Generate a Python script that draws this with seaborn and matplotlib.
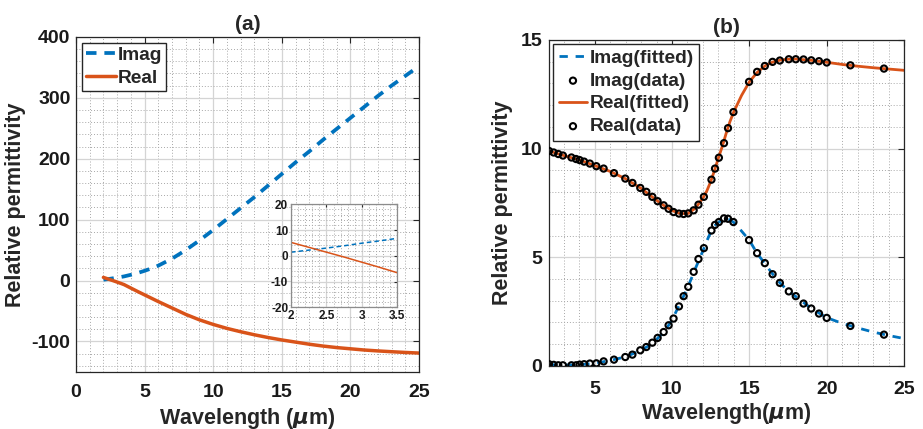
import numpy as np
import matplotlib
matplotlib.use("Agg")
import matplotlib.pyplot as plt
from matplotlib.ticker import MultipleLocator
import seaborn as sns

# ---- panel (a): Drude-type permittivity of the metal ----
wl_a = [2, 2.25, 2.5, 2.75, 3, 3.25, 3.5, 4, 4.5, 5, 5.5, 6, 7, 8, 9, 10,
        11, 12, 13, 14, 15, 16, 17, 18, 19, 20, 21, 22, 23, 24, 25]
imag_a = [1.4, 2.2, 3.0, 3.9, 4.9, 5.8, 6.8, 9.5, 12.5, 16, 20, 24.5, 36, 50,
          66, 83, 101, 119, 137, 156, 175, 194, 212, 231, 249, 267, 285, 303,
          320, 336, 352]
real_a = [5.2, 3.3, 1.4, -0.5, -2.5, -4.5, -6.6, -12.3, -18, -23.5, -29, -34.5,
          -45, -55.5, -64.5, -72, -78.5, -84, -89, -93.5, -97.5, -101, -104.5,
          -107.5, -110, -112, -114, -115.5, -116.8, -118, -119]

# ---- panel (b): measured data and fitted model of the dielectric ----
wl_data = [2.05, 2.35, 2.65, 2.95, 3.5, 3.8, 4.03, 4.32, 4.69, 5.11, 5.58,
           6.25, 6.98, 7.44, 7.95, 8.34, 8.73, 9.07, 9.46, 9.78, 10.1, 10.45,
           10.75, 11.05, 11.4, 11.71, 12.06, 12.55, 12.78, 13.03, 13.36,
           13.62, 13.97, 14.98, 15.5, 16.0, 16.5, 16.97, 17.55, 18.0, 18.5,
           19.0, 19.5, 20.0, 21.53, 23.7]
real_data = [9.89, 9.82, 9.75, 9.68, 9.59, 9.52, 9.47, 9.40, 9.31, 9.19, 9.08,
             8.87, 8.62, 8.42, 8.19, 8.01, 7.78, 7.58, 7.39, 7.23, 7.08, 7.01,
             6.99, 7.02, 7.16, 7.42, 7.78, 8.57, 9.08, 9.58, 10.25, 10.94,
             11.68, 13.07, 13.53, 13.80, 13.99, 14.05, 14.11, 14.11, 14.10,
             14.06, 14.02, 13.96, 13.83, 13.68]
imag_data = [0.08, 0.05, 0.03, 0.03, 0.03, 0.03, 0.06, 0.08, 0.11, 0.12, 0.21,
             0.29, 0.41, 0.52, 0.72, 0.87, 1.07, 1.29, 1.56, 1.87, 2.18, 2.74,
             3.21, 3.64, 4.33, 4.92, 5.42, 6.23, 6.49, 6.62, 6.79, 6.77, 6.62,
             5.79, 5.19, 4.73, 4.22, 3.82, 3.43, 3.21, 2.87, 2.64, 2.41, 2.21,
             1.84, 1.44]

wl_fit = [2.05, 3, 4, 5, 6, 7, 8, 8.5, 9, 9.5, 10, 10.5, 11, 11.5, 12, 12.25,
          12.5, 12.75, 13, 13.25, 13.5, 13.75, 14, 14.5, 15, 15.5, 16, 16.5,
          17, 17.5, 18, 19, 20, 21, 22, 23, 24, 25]
real_fit = [9.89, 9.68, 9.48, 9.22, 8.95, 8.61, 8.17, 7.90, 7.62, 7.37, 7.15,
            7.02, 7.00, 7.25, 7.72, 8.05, 8.48, 9.00, 9.57, 10.10, 10.70,
            11.25, 11.70, 12.45, 13.07, 13.50, 13.80, 13.98, 14.07, 14.11,
            14.12, 14.06, 13.97, 13.87, 13.79, 13.72, 13.66, 13.60]
imag_fit = [0.06, 0.04, 0.05, 0.12, 0.25, 0.42, 0.72, 0.93, 1.22, 1.58, 2.10,
            2.85, 3.58, 4.46, 5.30, 5.75, 6.15, 6.45, 6.60, 6.72, 6.78, 6.72,
            6.60, 6.20, 5.78, 5.18, 4.71, 4.23, 3.80, 3.46, 3.19, 2.65, 2.22,
            1.96, 1.75, 1.56, 1.40, 1.26]

# tick positions / labels
xticks_a = [0, 5, 10, 15, 20, 25]
yticks_a = [-100, 0, 100, 200, 300, 400]
xticks_in = [2, 2.5, 3, 3.5]
yticks_in = [-20, -10, 0, 10, 20]
xticks_b = [5, 10, 15, 20, 25]
yticks_b = [0, 5, 10, 15]

BLUE = "#0072BD"
ORANGE = "#D95319"
AXCOL = "#262626"

sns.set_style("white")
plt.rcParams["font.family"] = ["Liberation Sans", "DejaVu Sans"]
plt.rcParams["font.weight"] = "bold"
plt.rcParams["axes.labelweight"] = "bold"
plt.rcParams["axes.titleweight"] = "bold"
plt.rcParams["axes.unicode_minus"] = False
plt.rcParams["mathtext.fontset"] = "dejavusans"

TICK_FS = 14
LABEL_FS = 15.5
TITLE_FS = 15
LEG_FS = 13.8


def fmt(v):
    return f"{v:g}"


def style_axes(ax, xt, yt, minor_x, minor_y, fs=TICK_FS, tick_len=4,
               xpad=9, ypad=4):
    ax.set_xticks(xt)
    ax.set_xticklabels([fmt(v) for v in xt], fontsize=fs, fontweight="bold")
    ax.set_yticks(yt)
    ax.set_yticklabels([fmt(v) for v in yt], fontsize=fs, fontweight="bold")
    ax.xaxis.set_minor_locator(MultipleLocator(minor_x))
    ax.yaxis.set_minor_locator(MultipleLocator(minor_y))
    ax.grid(which="major", color="#d4d4d4", linewidth=0.9, linestyle="-")
    ax.grid(which="minor", color="#a8a8a8", linewidth=0.7, linestyle=(0, (1, 2)))
    ax.set_axisbelow(True)
    ax.tick_params(which="major", direction="in", top=True, right=True,
                   length=tick_len, width=0.8, color=AXCOL,
                   labelcolor="#1a1a1a")
    ax.tick_params(axis="x", which="major", pad=xpad)
    ax.tick_params(axis="y", which="major", pad=ypad)
    ax.tick_params(which="minor", length=0, top=True, right=True)
    for sp in ax.spines.values():
        sp.set_visible(True)
        sp.set_color(AXCOL)
        sp.set_linewidth(0.9)


fig = plt.figure(figsize=(9.23, 4.29), dpi=100)

# ---------------- (a) ----------------
ax1 = fig.add_axes([0.0823, 0.133, 0.3717, 0.781])
sns.lineplot(x=wl_a, y=imag_a, ax=ax1, color=BLUE, linewidth=2.7, label="Imag")
ax1.lines[-1].set_dashes((2.8, 2.1))
sns.lineplot(x=wl_a, y=real_a, ax=ax1, color=ORANGE, linewidth=2.5, label="Real")
style_axes(ax1, xticks_a, yticks_a, 1, 20)
ax1.set_xlim(0, 25)
ax1.set_ylim(-150, 400)
ax1.set_xlabel("Wavelength ($\\mu$m)", fontsize=LABEL_FS, fontweight="bold", labelpad=3)
ax1.set_ylabel("Relative permittivity", fontsize=LABEL_FS, fontweight="bold", labelpad=4)
ax1.set_title("(a)", fontsize=TITLE_FS, fontweight="bold", pad=5)
leg1 = ax1.legend(loc="upper left", fontsize=LEG_FS, frameon=True, fancybox=False,
                  edgecolor=AXCOL, framealpha=1, handlelength=1.6,
                  handletextpad=0.1, labelspacing=0.3, borderpad=0.2,
                  borderaxespad=0.3)
leg1.get_frame().set_linewidth(1.0)

# inset: zoom on the short-wavelength crossing
axin = fig.add_axes([0.3153, 0.2837, 0.1153, 0.2401])
sns.lineplot(x=wl_a, y=imag_a, ax=axin, color=BLUE, linewidth=1.1, legend=False)
axin.lines[-1].set_dashes((3, 2))
sns.lineplot(x=wl_a, y=real_a, ax=axin, color=ORANGE, linewidth=1.1, legend=False)
style_axes(axin, xticks_in, yticks_in, 0.1, 2, fs=8.5, tick_len=2,
           xpad=2, ypad=2)
axin.set_xlim(2, 3.5)
axin.set_ylim(-20, 20)
for sp in axin.spines.values():
    sp.set_color("#8c8c8c")
axin.set_xlabel("")
axin.set_ylabel("")
axin.set_facecolor("white")

# ---------------- (b) ----------------
ax2 = fig.add_axes([0.5948, 0.147, 0.3847, 0.760])
sns.lineplot(x=wl_fit, y=imag_fit, ax=ax2, color=BLUE, linewidth=2.0,
             label="Imag(fitted)")
ax2.lines[-1].set_dashes((3.0, 2.8))
sns.scatterplot(x=wl_data, y=imag_data, ax=ax2, marker="o", s=20,
                facecolor="none", edgecolor="black", linewidth=1.5,
                label="Imag(data)", zorder=3)
sns.lineplot(x=wl_fit, y=real_fit, ax=ax2, color=ORANGE, linewidth=2.0,
             label="Real(fitted)")
sns.scatterplot(x=wl_data, y=real_data, ax=ax2, marker="o", s=20,
                facecolor="none", edgecolor="black", linewidth=1.5,
                label="Real(data)", zorder=3)
style_axes(ax2, xticks_b, yticks_b, 1, 1, xpad=11, ypad=5)
ax2.set_xlim(2.05, 25)
ax2.set_ylim(0, 15)
ax2.set_xlabel("Wavelength($\\mu$m)", fontsize=LABEL_FS, fontweight="bold", labelpad=2)
ax2.set_ylabel("Relative permittivity", fontsize=LABEL_FS, fontweight="bold", labelpad=5)
ax2.set_title("(b)", fontsize=TITLE_FS, fontweight="bold", pad=5)
leg2 = ax2.legend(loc="upper left", fontsize=LEG_FS, frameon=True, fancybox=False,
                  edgecolor=AXCOL, framealpha=1, handlelength=1.5,
                  handletextpad=0.1, labelspacing=0.28, borderpad=0.3,
                  borderaxespad=0.2)
leg2.get_frame().set_linewidth(1.0)

fig.savefig("out.png", dpi=100)
